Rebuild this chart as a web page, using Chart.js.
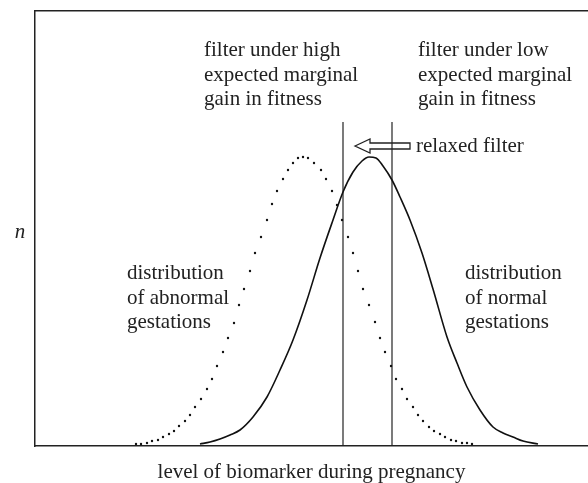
<!DOCTYPE html>
<html>
<head>
    <title>level of biomarker during pregnancy</title>
    <script src="https://cdn.jsdelivr.net/npm/chart.js@4.4.1/dist/chart.umd.min.js"></script>
    <style>
        html, body { margin: 0; padding: 0; background: #fff; }
        .chart-container { width: 588px; height: 483px; }
    </style>
</head>
<body>
    <div class="chart-container">
        <canvas id="biomarkerChart"></canvas>
    </div>

    <script>
        // abnormal gestations (dotted), x = biomarker level, y = n
        const abnormalX = [101, 106, 112, 117, 123, 128, 134, 139, 144, 150, 155, 160, 166, 172, 177, 182, 188, 193, 199, 204,
                           209, 215, 220, 226, 232, 237, 242, 248, 253, 258, 263, 268, 273, 279, 286, 291, 297, 302, 307, 313,
                           318, 323, 328, 334, 340, 345, 350, 356, 361, 367, 372, 378, 383, 388, 394, 399, 405, 410, 416, 421,
                           427, 432, 437];
        const abnormalN = [2, 2, 3, 5, 6, 9, 12, 15, 20, 25, 31, 39, 47, 57, 67, 80, 94, 108, 123, 141,
                           157, 175, 193, 209, 226, 242, 255, 267, 276, 283, 288, 289, 288, 283, 276, 267, 255, 241, 226, 209,
                           193, 175, 157, 141, 124, 108, 94, 80, 67, 57, 47, 39, 31, 25, 19, 15, 12, 9, 6, 5,
                           3, 3, 2];

        // normal gestations (solid)
        const normalX = [165, 175, 185, 195, 205, 218, 232, 245, 258, 272, 285, 298, 308, 318, 327, 334,
                         341, 348, 357, 365, 375, 387, 398, 412, 422, 432, 445, 458, 468, 478, 488, 503];
        const normalN = [2, 4, 7, 11, 16, 29, 49, 76, 106, 146, 188, 226, 254, 274, 285, 289,
                         288, 280, 266, 249, 226, 193, 157, 109, 83, 59, 36, 19, 13, 9, 5, 2];

        // filters: [high expected marginal gain, low expected marginal gain]
        const filterLevels = [308, 357];
        const filterTop = 324;

        const labelFont = '21px "Liberation Serif", "Times New Roman", serif';
        const labels = [
            { x: 169, y: 390, lines: ['filter under high', 'expected marginal', 'gain in fitness'] },
            { x: 383, y: 390, lines: ['filter under low', 'expected marginal', 'gain in fitness'] },
            { x: 381, y: 294, lines: ['relaxed filter'] },
            { x: 92, y: 167, lines: ['distribution', 'of abnormal', 'gestations'] },
            { x: 430, y: 167, lines: ['distribution', 'of normal', 'gestations'] }
        ];
        const arrow = { from: 375, to: 320, y: 300 };

        const toPoints = (xs, ys) => xs.map((x, i) => ({ x: x, y: ys[i] }));

        const annotations = {
            id: 'annotations',
            afterDatasetsDraw(chart) {
                const ctx = chart.ctx;
                const xs = chart.scales.x;
                const ys = chart.scales.y;
                ctx.save();
                ctx.fillStyle = '#222';
                ctx.font = labelFont;
                ctx.textBaseline = 'alphabetic';
                ctx.textAlign = 'left';
                labels.forEach(l => {
                    const px = xs.getPixelForValue(l.x);
                    const py = ys.getPixelForValue(l.y);
                    l.lines.forEach((t, i) => ctx.fillText(t, px, py + i * 24.5));
                });

                // n on the left of the frame
                ctx.font = 'italic 21px "Liberation Serif", "Times New Roman", serif';
                ctx.textAlign = 'center';
                ctx.fillText('n', xs.left - 15, ys.getPixelForValue(208));

                // open arrow pointing to the relaxed filter
                const tail = xs.getPixelForValue(arrow.from);
                const tip = xs.getPixelForValue(arrow.to);
                const cy = ys.getPixelForValue(arrow.y);
                const head = tip + 15;
                ctx.beginPath();
                ctx.moveTo(tip, cy);
                ctx.lineTo(head, cy - 7);
                ctx.lineTo(head, cy - 3);
                ctx.lineTo(tail, cy - 3);
                ctx.lineTo(tail, cy + 3);
                ctx.lineTo(head, cy + 3);
                ctx.lineTo(head, cy + 7);
                ctx.closePath();
                ctx.strokeStyle = '#222';
                ctx.lineWidth = 1.3;
                ctx.stroke();
                ctx.restore();
            }
        };

        const ctx = document.getElementById('biomarkerChart').getContext('2d');

        new Chart(ctx, {
            type: 'scatter',
            data: {
                datasets: [
                    {
                        label: 'distribution of abnormal gestations',
                        data: toPoints(abnormalX, abnormalN),
                        showLine: false,
                        pointRadius: 1.2,
                        pointBackgroundColor: '#111',
                        pointBorderWidth: 0
                    },
                    {
                        label: 'distribution of normal gestations',
                        data: toPoints(normalX, normalN),
                        showLine: true,
                        borderColor: '#111',
                        borderWidth: 1.6,
                        pointRadius: 0,
                        cubicInterpolationMode: 'monotone'
                    },
                    ...filterLevels.map((lv, i) => ({
                        label: i === 0 ? 'filter under high expected marginal gain in fitness'
                                       : 'filter under low expected marginal gain in fitness',
                        data: [{ x: lv, y: 0 }, { x: lv, y: filterTop }],
                        showLine: true,
                        borderColor: '#222',
                        borderWidth: 1.2,
                        pointRadius: 0
                    }))
                ]
            },
            options: {
                responsive: true,
                maintainAspectRatio: false,
                animation: false,
                layout: { autoPadding: false, padding: { left: 35, top: 11, right: 0, bottom: 0 } },
                plugins: {
                    legend: { display: false },
                    tooltip: { enabled: false }
                },
                scales: {
                    x: {
                        type: 'linear',
                        min: 0,
                        max: 553,
                        ticks: { display: false },
                        grid: { display: false, drawTicks: false },
                        border: { display: true, color: '#222', width: 1.5 },
                        title: {
                            display: true,
                            text: 'level of biomarker during pregnancy',
                            color: '#222',
                            font: { family: '"Liberation Serif", "Times New Roman", serif', size: 21, lineHeight: 1 },
                            padding: { top: 16, bottom: 0 }
                        }
                    },
                    x2: {
                        type: 'linear',
                        position: 'top',
                        min: 0,
                        max: 553,
                        ticks: { display: false },
                        grid: { display: false, drawTicks: false },
                        border: { display: true, color: '#222', width: 1.5 }
                    },
                    y: {
                        min: 0,
                        max: 435,
                        ticks: { display: false },
                        grid: { display: false, drawTicks: false },
                        border: { display: true, color: '#222', width: 1.5 }
                    }
                }
            },
            plugins: [annotations]
        });
    </script>
</body>
</html>
